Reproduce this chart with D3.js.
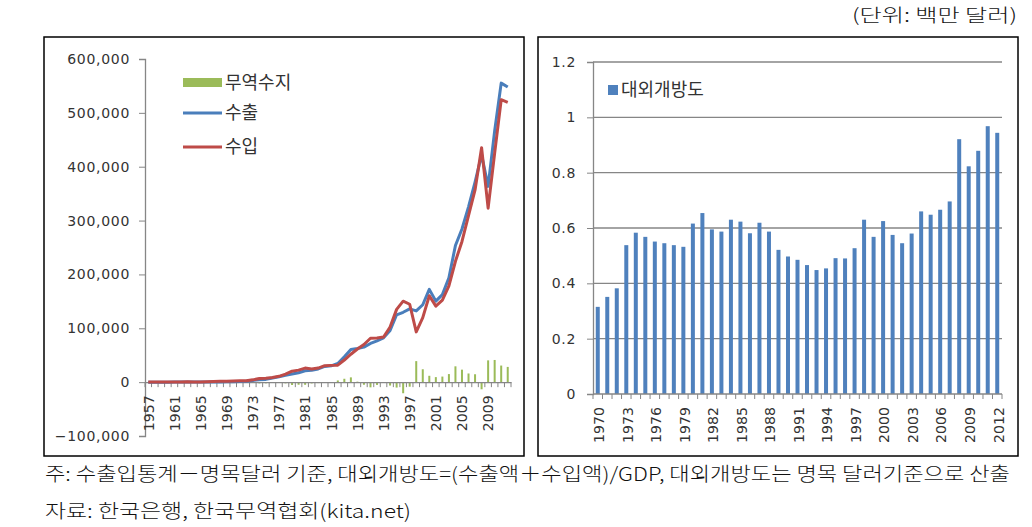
<!DOCTYPE html>
<html><head><meta charset="utf-8">
<script src="https://cdn.jsdelivr.net/npm/d3@7"></script>
<style>
html,body{margin:0;padding:0;background:#fff;}
svg{display:block;}
</style></head>
<body>
<svg id="c" width="1032" height="527"></svg>
<script>
// ---- Left chart data (million USD) ----
const tradeYears = d3.range(1957, 2013);
const exportsVals = [22,17,20,33,41,55,87,119,175,250,320,455,623,835,1068,1624,3225,4460,5081,7715,10047,12711,15056,17505,21254,21853,24445,29245,30283,34715,47281,60696,62377,65016,71870,76632,82236,96013,125058,129715,136164,132313,143685,172268,150439,162471,193817,253845,284419,325465,371489,422007,363534,466384,555214,547870];
const importsVals = [442,378,304,344,316,422,560,404,463,716,996,1463,1824,1984,2394,2522,4240,6852,7274,8774,10811,14972,20339,22292,26131,24251,26192,30631,31136,31584,41020,51811,61465,69844,81525,81775,83800,102348,135119,150339,144616,93282,119752,160481,141098,152126,178827,224463,261238,309383,356846,435275,323085,425212,524413,519584];
const balanceVals = [-420,-361,-284,-311,-275,-367,-473,-285,-288,-466,-676,-1008,-1201,-1149,-1326,-898,-1015,-2392,-2193,-1059,-764,-2261,-5283,-4787,-4877,-2398,-1747,-1386,-853,3131,6261,8885,912,-4828,-9655,-5143,-1564,-6335,-10061,-20624,-8452,39031,23933,11787,9341,10345,14990,29382,23181,16082,14643,-13268,40449,41172,30801,28286];
const leftTicks = [-100000,0,100000,200000,300000,400000,500000,600000];
const leftLabelYears = [1957,1961,1965,1969,1973,1977,1981,1985,1989,1993,1997,2001,2005,2009];
const leftLegend = ["무역수지","수출","수입"];

// ---- Right chart data ----
const openYears = d3.range(1970, 2013);
const opennessVals = [0.315,0.351,0.382,0.538,0.583,0.568,0.551,0.545,0.538,0.532,0.616,0.654,0.595,0.587,0.630,0.623,0.581,0.619,0.587,0.521,0.497,0.485,0.466,0.448,0.454,0.491,0.490,0.527,0.630,0.568,0.625,0.575,0.545,0.580,0.660,0.648,0.666,0.696,0.921,0.823,0.879,0.968,0.944];
const rightTicks = [0,0.2,0.4,0.6,0.8,1,1.2];
const rightLabelYears = [1970,1973,1976,1979,1982,1985,1988,1991,1994,1997,2000,2003,2006,2009,2012];
const rightLegend = "대외개방도";

const unitText = "(단위: 백만 달러)";
const noteText = "주: 수출입통계－명목달러 기준, 대외개방도=(수출액＋수입액)/GDP, 대외개방도는 명목 달러기준으로 산출";
const sourceText = "자료: 한국은행, 한국무역협회(kita.net)";

const svg = d3.select("#c");
const KFONT = "'Noto Sans CJK KR','Noto Sans',sans-serif";
const NFONT = "'DejaVu Sans',sans-serif";
const AXC = "#868686";
const TXT = "#333";

// frames
svg.append("rect").attr("x",44).attr("y",37).attr("width",480).attr("height",419)
  .attr("fill","none").attr("stroke","#000").attr("stroke-width",1.5);
svg.append("rect").attr("x",538).attr("y",37).attr("width",480).attr("height",419)
  .attr("fill","none").attr("stroke","#000").attr("stroke-width",1.5);

// ===== Left chart =====
const xL = d3.scaleBand().domain(tradeYears).range([145,511]);
const yL = d3.scaleLinear().domain([-100000,600000]).range([436,59]);
const gL = svg.append("g");

// y axis
const yAxL = d3.axisLeft(yL).tickValues(leftTicks).tickSize(6).tickPadding(9).tickFormat(d3.format(","));
const gyL = gL.append("g").attr("transform","translate(145,0)").call(yAxL);
gyL.select(".domain").attr("stroke",AXC).attr("stroke-width",1.3);
gyL.selectAll(".tick line").attr("stroke",AXC);
gyL.selectAll("text").attr("font-family",NFONT).attr("font-size",14).attr("fill",TXT).attr("letter-spacing",0.7);

// bars (trade balance)
gL.append("g").selectAll("rect").data(tradeYears).join("rect")
  .attr("x",(d)=>xL(d)+xL.bandwidth()/2-1)
  .attr("width",2)
  .attr("y",(d,i)=>Math.min(yL(balanceVals[i]),yL(0)))
  .attr("height",(d,i)=>Math.abs(yL(balanceVals[i])-yL(0)))
  .attr("fill","#9BBB59");

// x axis at 0
const xAxL = d3.axisBottom(xL).tickValues([]).tickSizeOuter(0);
const gxL = gL.append("g").attr("transform",`translate(0,${yL(0)})`).call(xAxL);
gxL.select(".domain").attr("stroke",AXC).attr("stroke-width",1.3);
gxL.selectAll(".cattick").data(tradeYears.concat([null])).join("line")
  .attr("x1",(d,i)=>145+i*xL.step()).attr("x2",(d,i)=>145+i*xL.step())
  .attr("y1",0).attr("y2",5).attr("stroke",AXC);
gxL.selectAll(".lbl").data(leftLabelYears).join("text")
  .attr("transform",d=>`translate(${xL(d)+xL.bandwidth()/2},13) rotate(-90)`)
  .attr("text-anchor","end").attr("dy","0.38em")
  .attr("font-family",NFONT).attr("font-size",14).attr("fill",TXT)
  .attr("textLength",36).attr("lengthAdjust","spacingAndGlyphs")
  .text(d=>d);

// lines
const lineL = d3.line().x((d,i)=>xL(tradeYears[i])+xL.bandwidth()/2).y(d=>yL(d));
gL.append("path").datum(exportsVals).attr("d",lineL).attr("fill","none")
  .attr("stroke","#4A7EBB").attr("stroke-width",3).attr("stroke-linejoin","round");
gL.append("path").datum(importsVals).attr("d",lineL).attr("fill","none")
  .attr("stroke","#BE4B48").attr("stroke-width",3).attr("stroke-linejoin","round");

// legend
const lg = gL.append("g");
lg.append("rect").attr("x",183).attr("y",78).attr("width",39).attr("height",9).attr("fill","#9BBB59");
lg.append("line").attr("x1",183).attr("x2",222).attr("y1",113).attr("y2",113).attr("stroke","#4A7EBB").attr("stroke-width",3);
lg.append("line").attr("x1",183).attr("x2",222).attr("y1",147).attr("y2",147).attr("stroke","#BE4B48").attr("stroke-width",3);
[82.5,113,147].forEach((y,i)=>{
  lg.append("text").attr("x",225).attr("y",y).attr("dy","0.36em")
    .attr("font-family",KFONT).attr("font-size",18).attr("fill",TXT).text(leftLegend[i]);
});

// ===== Right chart =====
const xRs = d3.scaleBand().domain(openYears).range([593,1002]);
const yR = d3.scaleLinear().domain([0,1.2]).range([394,62]);
const gR = svg.append("g");

// gridlines
gR.append("g").selectAll("line").data(rightTicks.filter(d=>d>0)).join("line")
  .attr("x1",593).attr("x2",1002).attr("y1",d=>yR(d)).attr("y2",d=>yR(d))
  .attr("stroke",AXC).attr("stroke-width",1.3);

const yAxR = d3.axisLeft(yR).tickValues(rightTicks).tickSize(6).tickPadding(11).tickFormat(d=>String(d));
const gyR = gR.append("g").attr("transform","translate(593,0)").call(yAxR);
gyR.select(".domain").attr("stroke",AXC).attr("stroke-width",1.3);
gyR.selectAll(".tick line").attr("stroke",AXC);
gyR.selectAll("text").attr("font-family",NFONT).attr("font-size",14).attr("fill",TXT).attr("letter-spacing",0.7);

// bars
gR.append("g").selectAll("rect").data(openYears).join("rect")
  .attr("x",d=>xRs(d)+xRs.bandwidth()/2-2)
  .attr("width",4)
  .attr("y",(d,i)=>yR(opennessVals[i]))
  .attr("height",(d,i)=>yR(0)-yR(opennessVals[i]))
  .attr("fill","#4F81BD");

const gxR = gR.append("g").attr("transform",`translate(0,${yR(0)})`);
gxR.append("line").attr("x1",593).attr("x2",1002).attr("stroke",AXC).attr("stroke-width",1.3);
gxR.selectAll(".cattick").data(openYears.concat([null])).join("line")
  .attr("x1",(d,i)=>593+i*xRs.step()).attr("x2",(d,i)=>593+i*xRs.step())
  .attr("y1",0).attr("y2",5).attr("stroke",AXC);
gxR.selectAll(".lbl").data(rightLabelYears).join("text")
  .attr("transform",d=>`translate(${xRs(d)+xRs.bandwidth()/2},13) rotate(-90)`)
  .attr("text-anchor","end").attr("dy","0.45em")
  .attr("font-family",NFONT).attr("font-size",14).attr("fill",TXT)
  .attr("textLength",36).attr("lengthAdjust","spacingAndGlyphs")
  .text(d=>d);

// legend
gR.append("rect").attr("x",608).attr("y",85).attr("width",10).attr("height",10).attr("fill","#4F81BD");
gR.append("text").attr("x",621).attr("y",90).attr("dy","0.36em")
  .attr("font-family",KFONT).attr("font-size",18).attr("fill",TXT).text(rightLegend);

// ===== texts =====
svg.append("text").attr("x",1017).attr("y",22).attr("text-anchor","end")
  .attr("font-family",KFONT).attr("font-size",18).attr("font-weight",300).attr("fill","#111")
  .attr("textLength",165).attr("lengthAdjust","spacingAndGlyphs").text(unitText);
svg.append("text").attr("x",45).attr("y",481)
  .attr("font-family",KFONT).attr("font-size",19).attr("font-weight",300).attr("fill","#111")
  .attr("textLength",965).attr("lengthAdjust","spacingAndGlyphs").text(noteText);
svg.append("text").attr("x",45).attr("y",518)
  .attr("font-family",KFONT).attr("font-size",19).attr("font-weight",300).attr("fill","#111")
  .attr("textLength",366).attr("lengthAdjust","spacingAndGlyphs").text(sourceText);
</script>
</body></html>
